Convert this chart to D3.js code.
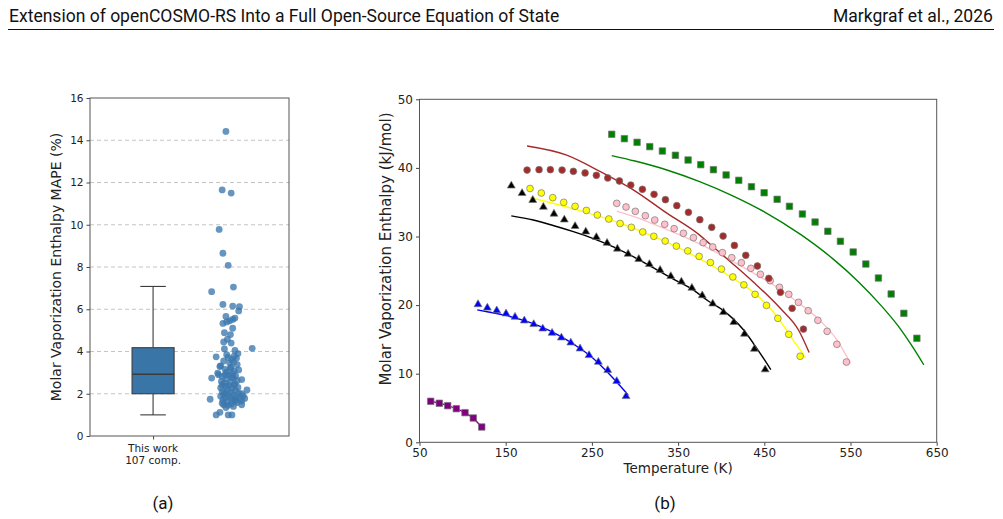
<!DOCTYPE html>
<html>
<head>
<meta charset="utf-8">
<script src="https://cdn.jsdelivr.net/npm/d3@7"></script>
<style>
  body { margin: 0; background: #fff; }
  text { font-family: "DejaVu Sans", sans-serif; fill: #222; }
  .head { font-family: Roboto, "Noto Sans", sans-serif; fill: #111; }
</style>
</head>
<body>
<div id="chart"></div>
<script>
// ---- data (a): MAPE per compound, jitter offset in category units
var mapeValues = [14.42, 11.65, 11.50, 9.78, 8.65, 8.08, 7.05, 6.83, 6.23, 6.15, 6.12, 5.92, 5.66, 5.58, 5.52, 5.45, 5.40, 5.33, 5.10, 4.89, 4.80, 4.58, 4.45, 4.40, 4.15, 4.12, 4.05,
  3.90, 3.85, 3.78, 3.75, 3.72, 3.68, 3.62, 3.55, 3.50, 3.45, 3.38, 3.32, 3.29, 3.25, 3.21, 3.15, 3.13, 3.08, 3.02, 2.98, 2.95,
  2.90, 2.90, 2.88, 2.85, 2.82, 2.78, 2.74, 2.74, 2.70, 2.67, 2.62, 2.58, 2.55, 2.50, 2.46, 2.42, 2.40, 2.40, 2.35, 2.30, 2.28, 2.25, 2.20, 2.18, 2.15, 2.10, 2.08, 2.05, 2.02, 2.00,
  1.98, 1.95, 1.92, 1.90, 1.88, 1.85, 1.82, 1.80, 1.78, 1.75, 1.74, 1.72, 1.70, 1.68, 1.66, 1.64, 1.62, 1.58, 1.55, 1.52, 1.48, 1.48, 1.45, 1.40, 1.35,
  1.12, 1.00, 1.00, 1.00];
var mapeJitter = [-0.03, -0.08, 0.04, -0.12, -0.07, 0.00, 0.07, -0.22, -0.07, 0.06, 0.15, 0.14, -0.03, 0.09, 0.06, 0.02, -0.02, -0.07, 0.06, -0.05, 0.03, -0.01, -0.06, 0.04, 0.32, -0.05, 0.09,
  0.13, -0.02, 0.08, -0.16, 0.00, 0.11, 0.05, -0.06, 0.07, 0.02, 0.12, -0.10, -0.11, 0.04, 0.03, -0.04, 0.14, 0.08, -0.02, -0.14, 0.06,
  -0.13, -0.04, 0.01, 0.10, -0.08, 0.05, -0.22, 0.07, -0.02, 0.18, 0.12, -0.09, 0.03, -0.05, 0.09, -0.08, 0.01, 0.08, -0.03, 0.13, -0.10, 0.05, -0.01, 0.25, 0.10, -0.08, 0.04, -0.03, 0.14, 0.18,
  -0.06, 0.07, 0.00, 0.20, -0.10, 0.11, 0.03, -0.04, 0.22, 0.15, -0.24, 0.09, -0.07, 0.05, 0.18, 0.09, -0.02, 0.12, -0.08, 0.04, -0.06, 0.18, 0.00, 0.07, -0.03,
  -0.11, -0.16, 0.00, 0.05];
var boxStats = {lo: 1.0, q1: 2.0, median: 2.92, q3: 4.18, hi: 7.08};
var mapeTicks = [0, 2, 4, 6, 8, 10, 12, 14, 16];

// ---- data (b): experimental points [T, dHvap] and model curves
var expGreen = [[273.0,44.9],[287.7,44.26],[302.4,43.73],[317.1,43.1],[331.8,42.46],[346.9,41.84],[361.6,41.15],[376.3,40.47],[391.0,39.74],[405.7,38.97],[420.4,38.19],[435.1,37.26],[449.8,36.38],[464.9,35.42],[479.2,34.4],[494.2,33.28],[508.9,32.11],[523.7,30.76],[538.3,29.3],[553.1,27.74],[567.8,25.99],[582.4,23.95],[597.2,21.62],[611.9,18.8],[627.0,15.16]];
var modelGreen = [[273,41.8],[300,41.0],[337,39.7],[375,38.0],[414,35.9],[450,33.6],[492,30.3],[530,26.7],[560,23.3],[585,20.0],[605,17.0],[620,14.3],[635,11.3]];
var expBrown = [[174.8,39.69],[188.7,39.74],[201.8,39.74],[215.4,39.69],[228.5,39.5],[242.1,39.26],[255.2,38.92],[268.4,38.53],[281.9,38.09],[295.1,37.5],[308.6,36.88],[322.1,36.15],[335.3,35.37],[348.5,34.5],[362.0,33.53],[375.2,32.45],[389.0,31.34],[402.2,30.07],[415.3,28.7],[428.5,27.26],[442.0,25.7],[455.2,23.9],[468.7,21.87],[482.3,19.53],[495.4,16.5]];
var modelBrown = [[174.8,43.2],[220,41.9],[260,39.45],[298,36.8],[337,33.4],[375,30.2],[387,28.9],[410,26.4],[437,23.4],[468,19.6],[490,16.3],[502,13.1]];
var expPink = [[278.8,34.83],[289.6,34.3],[300.4,33.67],[312.0,33.03],[322.9,32.4],[334.5,31.78],[345.4,31.14],[356.2,30.47],[367.8,29.83],[379.0,29.1],[390.2,28.47],[401.4,27.64],[412.3,26.91],[423.4,26.18],[434.4,25.36],[445.5,24.49],[456.8,23.56],[467.6,22.6],[478.4,21.57],[489.6,20.4],[500.9,19.18],[512.1,17.78],[522.9,16.18],[534.2,14.29],[545.3,11.7]];
var modelPink = [[278.8,33.7],[310,32.4],[337,31.0],[370,29.2],[400,27.3],[430,25.2],[460,23.0],[490,20.3],[515,17.7],[535,14.8],[550,11.5]];
var expYellow = [[178.2,37.0],[191.3,36.34],[204.6,35.66],[217.3,34.98],[230.5,34.4],[243.6,33.8],[256.3,33.13],[269.6,32.55],[282.7,31.9],[295.8,31.34],[309.0,30.66],[321.8,30.03],[335.0,29.34],[348.0,28.6],[361.2,27.9],[374.4,27.1],[387.5,26.2],[400.3,25.25],[413.5,24.1],[426.3,22.95],[439.3,21.57],[452.5,19.96],[465.7,18.07],[478.4,15.74],[491.6,12.54]];
var modelYellow = [[178,35.7],[200,35.0],[230,34.0],[260,32.9],[290,31.6],[320,30.1],[350,28.4],[380,26.4],[410,24.2],[440,21.6],[455,19.8],[465,18.3],[475,16.5],[485,14.6],[492,13.4],[498,12.3]];
var expBlack = [[156.5,37.4],[169.0,36.3],[181.4,35.3],[193.7,34.3],[206.0,33.3],[218.0,32.45],[230.5,31.5],[242.9,30.7],[255.2,29.9],[267.6,29.05],[279.6,28.2],[292.0,27.45],[304.4,26.7],[316.7,25.95],[329.1,25.1],[341.5,24.2],[353.8,23.4],[366.0,22.5],[378.0,21.4],[390.2,20.2],[402.6,18.95],[414.6,17.5],[427.0,15.8],[438.5,13.6],[451.0,10.6]];
var modelBlack = [[156.5,33.0],[182,32.4],[205,31.6],[228.5,30.7],[251.7,29.7],[275,28.5],[298,27.05],[321,25.45],[344.5,23.8],[366.6,22.3],[385,20.6],[402.6,19.2],[425.8,16.4],[441.3,13.7],[457.6,10.6]];
var expBlue = [[117.9,20.1],[128.7,19.6],[139.6,19.2],[150.4,18.75],[160.8,18.27],[171.6,17.73],[182.5,17.2],[193.0,16.56],[203.8,15.93],[214.6,15.25],[225.5,14.52],[236.3,13.65],[246.7,12.68],[257.5,11.7],[268.4,10.5],[278.8,8.9],[289.6,6.7]];
var modelBlue = [[117,19.3],[130,19.0],[150,18.5],[170,17.8],[190,16.9],[210,15.7],[230,14.2],[250,12.4],[265,10.6],[280,8.6],[292,6.9]];
var expPurple = [[63.0,5.98],[73.0,5.69],[82.7,5.34],[92.7,4.9],[102.8,4.32],[112.4,3.54],[122.2,2.23]];
var modelPurple = [[63.0,6.0],[73.0,5.7],[82.7,5.35],[92.7,4.9],[102.8,4.3],[112.4,3.5],[122.2,2.2]];
var tempTicks = [50, 150, 250, 350, 450, 550, 650];
var enthalpyTicks = [0, 10, 20, 30, 40, 50];

var series = [
  {exp: expPurple, model: modelPurple, color: "purple", shape: d3.symbolSquare},
  {exp: expBlue, model: modelBlue, color: "blue", shape: d3.symbolTriangle},
  {exp: expBlack, model: modelBlack, color: "black", shape: d3.symbolTriangle},
  {exp: expYellow, model: modelYellow, color: "yellow", shape: d3.symbolCircle},
  {exp: expPink, model: modelPink, color: "pink", shape: d3.symbolCircle},
  {exp: expBrown, model: modelBrown, color: "brown", shape: d3.symbolCircle},
  {exp: expGreen, model: modelGreen, color: "green", shape: d3.symbolSquare}
];

var svg = d3.select("#chart").append("svg")
  .attr("width", 1003)
  .attr("height", 519);

// header (narrowed horizontally to fit the condensed look)
function enTete(x, largeur, texte) {
  var t = svg.append("text").attr("class", "head")
    .style("font-size", "19px")
    .text(texte);
  var k = largeur / t.node().getComputedTextLength();
  t.attr("transform", "translate(" + x + ",22) scale(" + k + ",1)");
}
enTete(9, 551, "Extension of openCOSMO-RS Into a Full Open-Source Equation of State");
enTete(833, 160, "Markgraf et al., 2026");
svg.append("line")
  .attr("x1", 8).attr("x2", 994).attr("y1", 29.5).attr("y2", 29.5)
  .attr("stroke", "#111").attr("stroke-width", 1.2);

// ---------- panel (a)
var xL = d3.scaleLinear().domain([-0.84, 1.81]).range([90, 289]),
    yL = d3.scaleLinear().domain([0, 16]).range([436, 98]);
var gA = svg.append("g");

gA.append("g").selectAll("line")
  .data(mapeTicks.slice(1, -1))
  .join("line")
    .attr("x1", xL.range()[0]).attr("x2", xL.range()[1])
    .attr("y1", function(d) { return yL(d); })
    .attr("y2", function(d) { return yL(d); })
    .attr("stroke", "#c4c4c4")
    .attr("stroke-dasharray", "4,3");

var axA = gA.append("g")
  .attr("transform", "translate(90,0)")
  .call(d3.axisLeft(yL).tickValues(mapeTicks).tickSize(3.5).tickPadding(3));
axA.selectAll("text").style("font-size", "10.5px").style("font-family", "DejaVu Sans").attr("fill", "#222");
axA.selectAll("line").attr("stroke", "#444");
axA.select(".domain").remove();

var axAx = gA.append("g")
  .attr("transform", "translate(0,436)")
  .call(d3.axisBottom(xL).tickValues([0]).tickSize(3.5).tickFormat(""));
axAx.selectAll("line").attr("stroke", "#444");
axAx.select(".domain").remove();
gA.append("text")
  .attr("x", xL(0)).attr("y", 452)
  .attr("text-anchor", "middle")
  .style("font-size", "10.5px")
  .text("This work");
gA.append("text")
  .attr("x", xL(0)).attr("y", 464)
  .attr("text-anchor", "middle")
  .style("font-size", "10.5px")
  .text("107 comp.");

// box
var boxColor = "#3a75a8", edge = "#3c3c3c";
gA.append("line")
  .attr("x1", xL(0)).attr("x2", xL(0))
  .attr("y1", yL(boxStats.hi)).attr("y2", yL(boxStats.q3))
  .attr("stroke", edge).attr("stroke-width", 1.1);
gA.append("line")
  .attr("x1", xL(0)).attr("x2", xL(0))
  .attr("y1", yL(boxStats.q1)).attr("y2", yL(boxStats.lo))
  .attr("stroke", edge).attr("stroke-width", 1.1);
[boxStats.hi, boxStats.lo].forEach(function(v) {
  gA.append("line")
    .attr("x1", xL(-0.17)).attr("x2", xL(0.17))
    .attr("y1", yL(v)).attr("y2", yL(v))
    .attr("stroke", edge).attr("stroke-width", 1.1);
});
gA.append("rect")
  .attr("x", xL(-0.28)).attr("width", xL(0.28) - xL(-0.28))
  .attr("y", yL(boxStats.q3)).attr("height", yL(boxStats.q1) - yL(boxStats.q3))
  .attr("fill", boxColor).attr("stroke", edge).attr("stroke-width", 1.1);
gA.append("line")
  .attr("x1", xL(-0.28)).attr("x2", xL(0.28))
  .attr("y1", yL(boxStats.median)).attr("y2", yL(boxStats.median))
  .attr("stroke", edge).attr("stroke-width", 1.6);

// strip
gA.append("g").selectAll("circle")
  .data(mapeValues)
  .join("circle")
    .attr("cx", function(d, i) { return xL(1 + mapeJitter[i]); })
    .attr("cy", function(d) { return yL(d); })
    .attr("r", 3.4)
    .attr("fill", "#3b77ad")
    .attr("fill-opacity", 0.78);

gA.append("rect")
  .attr("x", 90).attr("y", 98).attr("width", 199).attr("height", 338)
  .attr("fill", "none").attr("stroke", "#555").attr("stroke-width", 1);
gA.append("text")
  .attr("transform", "translate(61,267) rotate(-90)")
  .attr("text-anchor", "middle")
  .style("font-size", "14px")
  .text("Molar Vaporization Enthalpy MAPE (%)");
svg.append("text").attr("class", "head")
  .attr("x", 163).attr("y", 509)
  .attr("text-anchor", "middle")
  .style("font-size", "17px")
  .text("(a)");

// ---------- panel (b)
var xR = d3.scaleLinear().domain([50, 650]).range([419.5, 936.7]),
    yR = d3.scaleLinear().domain([0, 50]).range([442.3, 99.3]);
var gB = svg.append("g");

var axBx = gB.append("g")
  .attr("transform", "translate(0,442.3)")
  .call(d3.axisBottom(xR).tickValues(tempTicks).tickSize(3.5).tickPadding(3));
var axBy = gB.append("g")
  .attr("transform", "translate(419.5,0)")
  .call(d3.axisLeft(yR).tickValues(enthalpyTicks).tickSize(3.5).tickPadding(3));
gB.selectAll(".tick text").style("font-size", "12px").style("font-family", "DejaVu Sans").attr("fill", "#222");
gB.selectAll(".tick line").attr("stroke", "#444");
gB.selectAll(".domain").remove();

var ligne = d3.line()
  .curve(d3.curveMonotoneX)
  .x(function(d) { return xR(d[0]); })
  .y(function(d) { return yR(d[1]); });

gB.append("g").selectAll("path")
  .data(series)
  .join("path")
    .attr("fill", "none")
    .attr("stroke", function(d) { return d.color; })
    .attr("stroke-width", 1.4)
    .attr("d", function(d) { return ligne(d.model); });

series.forEach(function(s) {
  var size = s.shape === d3.symbolSquare ? 42 : (s.shape === d3.symbolTriangle ? 27 : 36);
  gB.append("g").selectAll("path")
    .data(s.exp)
    .join("path")
      .attr("transform", function(d) { return "translate(" + xR(d[0]) + "," + yR(d[1]) + ")"; })
      .attr("d", d3.symbol().type(s.shape).size(size))
      .attr("fill", s.color)
      .attr("stroke", "#777")
      .attr("stroke-width", 0.7);
});

gB.append("rect")
  .attr("x", 419.5).attr("y", 99.3).attr("width", 936.7 - 419.5).attr("height", 442.3 - 99.3)
  .attr("fill", "none").attr("stroke", "#555").attr("stroke-width", 1);
gB.append("text")
  .attr("x", (419.5 + 936.7) / 2).attr("y", 473)
  .attr("text-anchor", "middle")
  .style("font-size", "13.5px")
  .text("Temperature (K)");
gB.append("text")
  .attr("transform", "translate(391,249) rotate(-90)")
  .attr("text-anchor", "middle")
  .style("font-size", "15px")
  .text("Molar Vaporization Enthalpy (kJ/mol)");
svg.append("text").attr("class", "head")
  .attr("x", 665).attr("y", 509)
  .attr("text-anchor", "middle")
  .style("font-size", "17px")
  .text("(b)");
</script>
</body>
</html>
